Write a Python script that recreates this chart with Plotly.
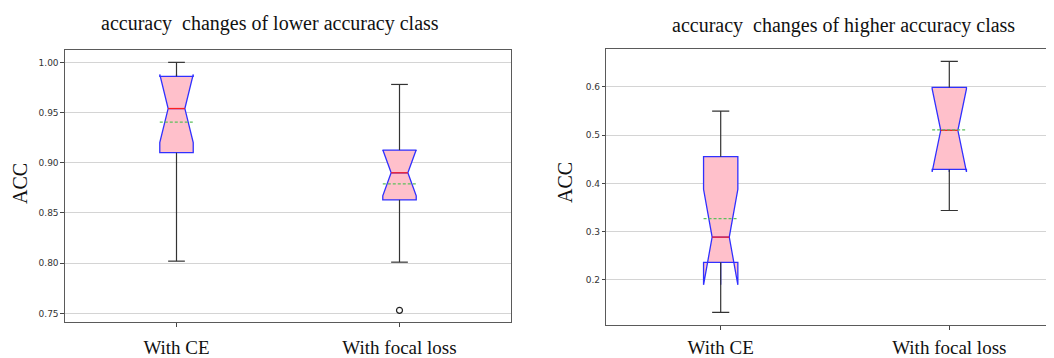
import plotly.graph_objects as go

# ---------------- data ----------------
categories = ["With CE", "With focal loss"]
positions = [1, 2]

low_q1 = [0.910, 0.863]
low_median = [0.954, 0.890]
low_q3 = [0.986, 0.9126]
low_lowerfence = [0.802, 0.801]
low_upperfence = [1.000, 0.978]
low_mean = [0.9405, 0.879]
low_notchspan = [0.034, 0.023]
low_outliers = [[], [0.753]]

high_q1 = [0.2366, 0.429]
high_median = [0.289, 0.510]
high_q3 = [0.4556, 0.599]
high_lowerfence = [0.133, 0.344]
high_upperfence = [0.550, 0.653]
high_mean = [0.327, 0.511]
high_notchspan = [0.099, 0.086]
high_outliers = [[], []]

low_yticks = [0.75, 0.80, 0.85, 0.90, 0.95, 1.00]
low_yticklabels = ["0.75", "0.80", "0.85", "0.90", "0.95", "1.00"]
high_yticks = [0.2, 0.3, 0.4, 0.5, 0.6]
high_yticklabels = ["0.2", "0.3", "0.4", "0.5", "0.6"]

titles = ["accuracy\u00a0 changes of lower accuracy class",
          "accuracy\u00a0 changes of higher accuracy class"]
ylabel = "ACC"

# ---------------- style ----------------
BOX_W = 0.15
CAP_HALF = BOX_W / 4
MED_HALF = BOX_W / 4
MEAN_HALF = BOX_W / 2
SERIF = "Liberation Serif, Times New Roman, serif"
SANS = "DejaVu Sans, sans-serif"

# page body has an 8px default margin; lay out in figure pixels
OFF = 8
W, H = 1054 - OFF, 358 - OFF


def px_x(v):
    return (v - OFF) / W


def px_y(v):
    return 1 - (v - OFF) / H


fig = go.Figure()


def segs(xc, half, ys):
    xs, yy = [], []
    for p, v in zip(xc, ys):
        xs += [p - half, p + half, None]
        yy += [v, v, None]
    return xs, yy


def add_panel(xa, ya, q1, med, q3, lo, hi, mean, notch, outliers):
    # whiskers (black)
    wx, wy = [], []
    for p, a, b, c, d in zip(positions, lo, q1, q3, hi):
        wx += [p, p, None, p, p, None]
        wy += [a, b, None, c, d, None]
    cx, cy = segs(positions, CAP_HALF, lo)
    cx2, cy2 = segs(positions, CAP_HALF, hi)
    fig.add_trace(go.Scatter(x=wx + cx + cx2, y=wy + cy + cy2, mode="lines",
                             line=dict(color="#333333", width=1.2),
                             xaxis=xa, yaxis=ya, showlegend=False, hoverinfo="skip"))
    # notched box
    fig.add_trace(go.Box(x=positions, q1=q1, median=med, q3=q3,
                         lowerfence=q1, upperfence=q3, notchspan=notch,
                         notched=True, notchwidth=0.25, width=BOX_W, whiskerwidth=0,
                         fillcolor="#ffc0cb", line=dict(color="#3030ff", width=1.3),
                         boxpoints=False, xaxis=xa, yaxis=ya, showlegend=False))
    # median (red)
    mx, my = segs(positions, MED_HALF, med)
    fig.add_trace(go.Scatter(x=mx, y=my, mode="lines",
                             line=dict(color="#ff2020", width=1.3),
                             xaxis=xa, yaxis=ya, showlegend=False, hoverinfo="skip"))
    # mean (green dashed)
    ex, ey = segs(positions, MEAN_HALF, mean)
    fig.add_trace(go.Scatter(x=ex, y=ey, mode="lines",
                             line=dict(color="#5cc05c", width=1.2, dash="3px,2px"),
                             xaxis=xa, yaxis=ya, showlegend=False, hoverinfo="skip"))
    # outliers
    ox, oy = [], []
    for p, outs in zip(positions, outliers):
        for v in outs:
            ox.append(p)
            oy.append(v)
    if ox:
        fig.add_trace(go.Scatter(x=ox, y=oy, mode="markers",
                                 marker=dict(symbol="circle-open", size=6,
                                             color="#222222", line=dict(width=1.2)),
                                 xaxis=xa, yaxis=ya, showlegend=False))


add_panel("x", "y", low_q1, low_median, low_q3, low_lowerfence, low_upperfence,
          low_mean, low_notchspan, low_outliers)
add_panel("x2", "y2", high_q1, high_median, high_q3, high_lowerfence, high_upperfence,
          high_mean, high_notchspan, high_outliers)

xaxis_common = dict(tickmode="array", tickvals=positions, ticktext=categories,
                    ticks="outside", ticklen=4, tickcolor="#444",
                    automargin=False,
                    tickfont=dict(family=SERIF, size=19, color="#111"),
                    showgrid=False, zeroline=False, showline=True,
                    linecolor="#5a5a5a", linewidth=1.2, fixedrange=True)
yaxis_common = dict(tickmode="array", ticks="outside", ticklen=3.5, tickcolor="#444",
                    automargin=False,
                    tickfont=dict(family=SANS, size=9, color="#333"),
                    showgrid=True, gridcolor="#d4d4d4", gridwidth=1,
                    zeroline=False, showline=True, linecolor="#5a5a5a",
                    linewidth=1.2, fixedrange=True)

fig.update_layout(
    width=W, height=H,
    margin=dict(l=0, r=0, t=0, b=0),
    paper_bgcolor="white", plot_bgcolor="white",
    boxmode="overlay",
    xaxis=dict(domain=[px_x(65), px_x(511)], range=[0.5, 2.5], mirror=True, anchor="y",
               ticklabelstandoff=4, **xaxis_common),
    yaxis=dict(domain=[px_y(322), px_y(50)], range=[0.7414, 1.0123], anchor="x",
               mirror=True, tickvals=low_yticks, ticktext=low_yticklabels,
               **yaxis_common),
    xaxis2=dict(domain=[px_x(606.4), 1.0], range=[0.5, 2.458], mirror=True, anchor="y2",
                ticklabelstandoff=1, **xaxis_common),
    yaxis2=dict(domain=[px_y(325), px_y(49.3)], range=[0.1067, 0.678], anchor="x2",
                mirror=False, tickvals=high_yticks, ticktext=high_yticklabels,
                **yaxis_common),
    annotations=[
        dict(text=titles[0], x=px_x(270), y=px_y(24), xref="paper", yref="paper",
             showarrow=False, font=dict(family=SERIF, size=20, color="#111"),
             xanchor="center", yanchor="middle"),
        dict(text=titles[1], x=px_x(843), y=px_y(26), xref="paper", yref="paper",
             showarrow=False, font=dict(family=SERIF, size=20, color="#111"),
             xanchor="center", yanchor="middle"),
        dict(text=ylabel, x=px_x(20), y=px_y(184), xref="paper", yref="paper",
             showarrow=False, textangle=-90, font=dict(family=SERIF, size=20, color="#111"),
             xanchor="center", yanchor="middle"),
        dict(text=ylabel, x=px_x(565), y=px_y(183), xref="paper", yref="paper",
             showarrow=False, textangle=-90, font=dict(family=SERIF, size=20, color="#111"),
             xanchor="center", yanchor="middle"),
    ],
)

fig.write_html("out.html")
